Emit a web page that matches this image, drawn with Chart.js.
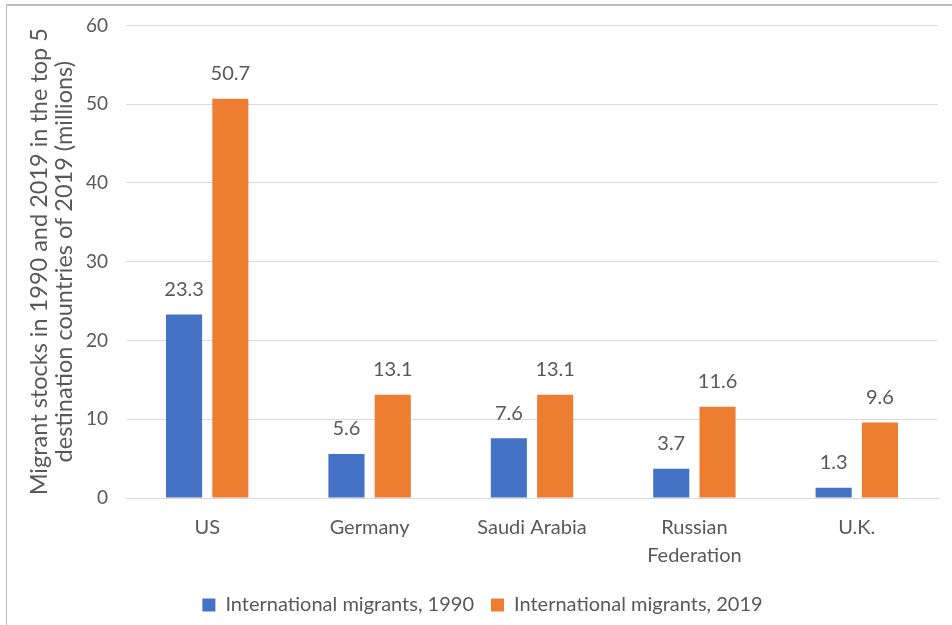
<!DOCTYPE html>
<html>
<head>
<meta charset="utf-8">
<script src="https://cdn.jsdelivr.net/npm/chart.js@4.4.0/dist/chart.umd.min.js"></script>
<style>
  html, body { margin: 0; padding: 0; background: #fff; overflow: hidden; }
  #frame {
    position: absolute; left: 6px; top: 4px; width: 946px; height: 621px;
    border-top: 2px solid #bdbdbd; border-left: 1px solid #bdbdbd;
    box-sizing: border-box;
  }
  #wrap { position: absolute; left: 7px; top: -4px; width: 945px; height: 629px; }
</style>
</head>
<body>
<div id="frame"></div>
<div id="wrap"><canvas id="chart"></canvas></div>
<script>
var categories = ["US", "Germany", "Saudi Arabia", ["Russian", "Federation"], "U.K."];
var migrants1990 = [23.3, 5.6, 7.6, 3.7, 1.3];
var migrants2019 = [50.7, 13.1, 13.1, 11.6, 9.6];
var seriesNames = ["International migrants, 1990", "International migrants, 2019"];
var yTitle = ["Migrant stocks in 1990 and 2019 in the top 5", "destination countries of 2019 (millions)"];

var textColor = "#595959";
var fontFamily = "Lato, 'Open Sans', sans-serif";

// draw the value labels above each bar
var valueLabels = {
  id: "valueLabels",
  afterDatasetsDraw: function (chart) {
    var ctx = chart.ctx;
    ctx.save();
    ctx.fillStyle = textColor;
    ctx.font = "20px " + fontFamily;
    ctx.textAlign = "center";
    ctx.textBaseline = "bottom";
    chart.data.datasets.forEach(function (ds, i) {
      chart.getDatasetMeta(i).data.forEach(function (bar, j) {
        ctx.fillText(ds.data[j].toFixed(1), bar.x, bar.y - 15);
      });
    });
    ctx.restore();
  }
};

var ctx = document.getElementById("chart").getContext("2d");
var myChart = new Chart(ctx, {
  type: "bar",
  data: {
    labels: categories,
    datasets: [
      {
        label: seriesNames[0],
        data: migrants1990,
        backgroundColor: "#4472C4",
        categoryPercentage: 0.57,
        barPercentage: 0.78,
      },
      {
        label: seriesNames[1],
        data: migrants2019,
        backgroundColor: "#ED7D31",
        categoryPercentage: 0.57,
        barPercentage: 0.78,
      },
    ],
  },
  options: {
    responsive: true,
    maintainAspectRatio: false,
    animation: false,
    layout: {
      padding: { left: 20, right: 14, top: 0, bottom: 0 },
    },
    plugins: {
      legend: {
        position: "bottom",
        labels: {
          color: textColor,
          font: { family: fontFamily, size: 20 },
          boxWidth: 13,
          boxHeight: 13,
          padding: 17,
        },
      },
      tooltip: { enabled: false },
    },
    scales: {
      x: {
        grid: { display: false },
        border: { color: "#d9d9d9" },
        ticks: {
          color: textColor,
          font: { family: fontFamily, size: 20, lineHeight: 1.4 },
          padding: 8,
          maxRotation: 0,
        },
      },
      y: {
        min: 0,
        max: 60,
        grid: { color: "#d9d9d9", drawTicks: false },
        border: { display: false },
        afterFit: function (scale) {
          scale.width = 99;
        },
        ticks: {
          stepSize: 10,
          color: textColor,
          font: { family: fontFamily, size: 19 },
          padding: 18,
        },
        title: {
          display: true,
          text: yTitle,
          color: textColor,
          font: { family: fontFamily, size: 23.5, lineHeight: 1.07 },
          padding: 0,
        },
      },
    },
  },
  plugins: [valueLabels],
});
</script>
</body>
</html>
